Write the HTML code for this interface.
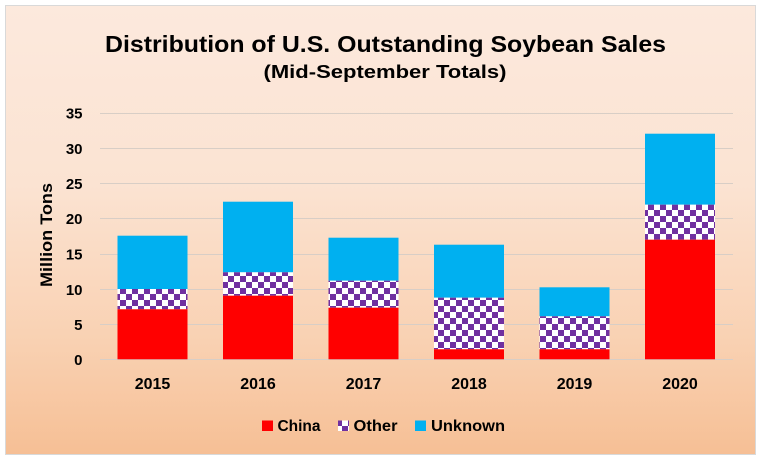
<!DOCTYPE html>
<html><head><meta charset="utf-8"><style>
html,body{margin:0;padding:0;background:#fff;}
svg{display:block;font-family:"Liberation Sans",sans-serif;font-weight:bold;}
</style></head><body>
<svg width="762" height="460" viewBox="0 0 762 460" xmlns="http://www.w3.org/2000/svg">
<defs>
<linearGradient id="bg" x1="0" y1="0" x2="0" y2="1">
<stop offset="0" stop-color="#fce9dd"/>
<stop offset="0.4" stop-color="#fbe3d2"/>
<stop offset="0.75" stop-color="#f9d1b2"/>
<stop offset="1" stop-color="#f6bf95"/>
</linearGradient>
<pattern id="chk" patternUnits="userSpaceOnUse" width="12" height="12">
<rect width="12" height="12" fill="#ffffff"/>
<rect x="0" y="0" width="6" height="6" fill="#7030a0"/>
<rect x="6" y="6" width="6" height="6" fill="#7030a0"/>
</pattern>
</defs>
<rect x="5.5" y="5.5" width="750" height="449" fill="url(#bg)" stroke="#d9d9d9" stroke-width="1"/>
<text x="385.5" y="52" font-size="23" text-anchor="middle" textLength="561" lengthAdjust="spacingAndGlyphs" fill="#000">Distribution of U.S. Outstanding Soybean Sales</text>
<text x="385" y="78" font-size="18" text-anchor="middle" textLength="243" lengthAdjust="spacingAndGlyphs" fill="#000">(Mid-September Totals)</text>
<g stroke="#d8cec6" stroke-width="1">
<line x1="100" x2="733" y1="359.5" y2="359.5"/>
<line x1="100" x2="733" y1="324.5" y2="324.5"/>
<line x1="100" x2="733" y1="289.5" y2="289.5"/>
<line x1="100" x2="733" y1="254.5" y2="254.5"/>
<line x1="100" x2="733" y1="218.5" y2="218.5"/>
<line x1="100" x2="733" y1="183.5" y2="183.5"/>
<line x1="100" x2="733" y1="148.5" y2="148.5"/>
<line x1="100" x2="733" y1="113.5" y2="113.5"/>
</g>
<g font-size="15" text-anchor="end" fill="#000">
<text x="82.5" y="365">0</text>
<text x="82.5" y="330">5</text>
<text x="82.5" y="295">10</text>
<text x="82.5" y="259.5">15</text>
<text x="82.5" y="224">20</text>
<text x="82.5" y="189">25</text>
<text x="82.5" y="154">30</text>
<text x="82.5" y="118.5">35</text>
</g>
<text transform="translate(52,235) rotate(-90)" font-size="17" text-anchor="middle" textLength="104" lengthAdjust="spacingAndGlyphs" fill="#000">Million Tons</text>
<g>
<rect x="117.5" y="235.7" width="70" height="53.3" fill="#00b0f0"/>
<rect x="117.5" y="289" width="70" height="20.3" fill="url(#chk)"/>
<rect x="117.5" y="309.3" width="70" height="50" fill="#ff0000"/>

<rect x="223" y="201.7" width="70" height="70.6" fill="#00b0f0"/>
<rect x="223" y="272.3" width="70" height="23.4" fill="url(#chk)"/>
<rect x="223" y="295.7" width="70" height="63.6" fill="#ff0000"/>

<rect x="328.5" y="237.7" width="70" height="43" fill="#00b0f0"/>
<rect x="328.5" y="280.7" width="70" height="27" fill="url(#chk)"/>
<rect x="328.5" y="307.7" width="70" height="51.6" fill="#ff0000"/>

<rect x="434" y="244.7" width="70" height="53" fill="#00b0f0"/>
<rect x="434" y="297.7" width="70" height="51.6" fill="url(#chk)"/>
<rect x="434" y="349.3" width="70" height="10" fill="#ff0000"/>

<rect x="539.5" y="287.3" width="70" height="29" fill="#00b0f0"/>
<rect x="539.5" y="316.3" width="70" height="33" fill="url(#chk)"/>
<rect x="539.5" y="349.3" width="70" height="10" fill="#ff0000"/>

<rect x="645" y="133.7" width="70" height="71" fill="#00b0f0"/>
<rect x="645" y="204.7" width="70" height="35" fill="url(#chk)"/>
<rect x="645" y="239.7" width="70" height="119.6" fill="#ff0000"/>
</g>
<g font-size="16" text-anchor="middle" fill="#000">
<text x="152.5" y="389">2015</text>
<text x="258" y="389">2016</text>
<text x="363.5" y="389">2017</text>
<text x="469" y="389">2018</text>
<text x="574.5" y="389">2019</text>
<text x="680" y="389">2020</text>
</g>
<rect x="262" y="420.5" width="11" height="10.5" fill="#ff0000"/>
<text x="277.5" y="431" font-size="16" fill="#000" textLength="43" lengthAdjust="spacingAndGlyphs">China</text>
<rect x="338" y="420.5" width="11" height="10.5" fill="#fff"/>
<rect x="338" y="420.5" width="11" height="10.5" fill="url(#chk)"/>
<text x="353.5" y="431" font-size="16" fill="#000" textLength="44" lengthAdjust="spacingAndGlyphs">Other</text>
<rect x="415" y="420.5" width="11" height="10.5" fill="#00b0f0"/>
<text x="431" y="431" font-size="16" fill="#000" textLength="74" lengthAdjust="spacingAndGlyphs">Unknown</text>
</svg>
</body></html>
